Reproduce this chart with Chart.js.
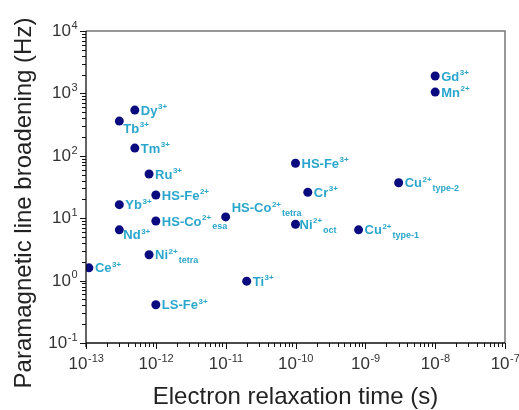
<!DOCTYPE html>
<html>
<head>
<meta charset="utf-8">
<script src="https://cdn.jsdelivr.net/npm/chart.js@4.4.1/dist/chart.umd.min.js"></script>
<style>
  body { margin: 0; background: #fff; }
  canvas { display: block; }
</style>
</head>
<body>
<canvas id="grafico" width="519" height="410"></canvas>
<script>
// ions (base name, charge as superscript, site as subscript)
const ionBase = ["Gd", "Mn", "Dy", "Tb", "Tm", "Ru", "HS-Fe", "Yb", "HS-Co", "HS-Co",
  "Nd", "Ni", "Ce", "LS-Fe", "Ti", "HS-Fe", "Cr", "Cu", "Ni", "Cu"];
const ionCharge = ["3+", "2+", "3+", "3+", "3+", "3+", "2+", "3+", "2+", "2+",
  "3+", "2+", "3+", "3+", "3+", "3+", "3+", "2+", "2+", "2+"];
const ionSite = ["", "", "", "", "", "", "", "", "esa", "tetra",
  "", "tetra", "", "", "", "", "", "type-2", "oct", "type-1"];
// electron relaxation time (s)
const tau = [1e-8, 1e-8, 5e-13, 3e-13, 5e-13, 8e-13, 1e-12, 3e-13, 1e-12, 1e-11,
  3e-13, 8e-13, 1.1e-13, 1e-12, 2e-11, 1e-10, 1.5e-10, 3e-9, 1e-10, 8e-10];
// paramagnetic line broadening (Hz)
const broadening = [1900, 1050, 540, 360, 133, 51, 23.5, 16.5, 9, 10.5,
  6.5, 2.6, 1.6, 0.41, 0.98, 76, 26, 37, 8, 6.5];
// tick labels (powers of ten)
const xTickExp = [-13, -12, -11, -10, -9, -8, -7];
const yTickExp = [-1, 0, 1, 2, 3, 4];

// label placement tweaks (by index), default is right of the point
const labelShift = { 3: [4, 7], 10: [4, 5], 9: [6, -9], 18: [4, 0] };

const labelColor = "#2aa6cc";
const dotColor = "#0b0b80";

// text with superscript / subscript
const richText = (ctx, x, y, base, sup, sub, size, font, weight) => {
  const wt = weight ? weight + " " : "";
  ctx.textAlign = "left";
  ctx.textBaseline = "alphabetic";
  ctx.font = wt + size + "px " + font;
  ctx.fillText(base, x, y);
  let cx = x + ctx.measureText(base).width;
  let w = 0;
  if (sup) {
    ctx.font = wt + Math.round(size * 0.62) + "px " + font;
    ctx.fillText(sup, cx + 0.5, y - size * 0.42);
    w = ctx.measureText(sup).width + 0.5;
  }
  if (sub) {
    ctx.font = wt + Math.round(size * 0.68) + "px " + font;
    ctx.fillText(sub, cx + w + 1, y + size * 0.3);
  }
};

const dibujo = {
  id: "dibujo",
  afterDraw(chart) {
    const ctx = chart.ctx;
    const xs = chart.scales.x;
    const ys = chart.scales.y;
    const a = chart.chartArea;
    ctx.save();

    // frame
    ctx.strokeStyle = "#777";
    ctx.lineWidth = 1.5;
    ctx.beginPath();
    ctx.moveTo(a.left, a.top);
    ctx.lineTo(a.right, a.top);
    ctx.lineTo(a.right, a.bottom);
    ctx.stroke();
    ctx.strokeStyle = "#111";
    ctx.lineWidth = 1.3;
    ctx.beginPath();
    ctx.moveTo(a.left, a.top);
    ctx.lineTo(a.left, a.bottom + 4);
    ctx.moveTo(a.left, a.bottom);
    ctx.lineTo(a.right, a.bottom);
    ctx.stroke();

    // ticks
    ctx.lineWidth = 1;
    ctx.beginPath();
    for (let e = -13; e <= -7; e++) {
      for (let m = 1; m <= 9; m++) {
        const v = m * Math.pow(10, e);
        if (v > 1.0001e-7) break;
        const px = Math.round(xs.getPixelForValue(v)) + 0.5;
        ctx.moveTo(px, a.bottom);
        ctx.lineTo(px, a.bottom + (m === 1 ? 6 : 4));
      }
    }
    for (let e = -1; e <= 4; e++) {
      for (let m = 1; m <= 9; m++) {
        const v = m * Math.pow(10, e);
        if (v > 1.0001e4) break;
        const py = Math.round(ys.getPixelForValue(v)) + 0.5;
        ctx.moveTo(a.left, py);
        ctx.lineTo(a.left - (m === 1 ? 6 : 4), py);
      }
    }
    ctx.stroke();

    // tick labels
    ctx.fillStyle = "#333";
    const tf = "'Liberation Sans', Arial, sans-serif";
    xTickExp.forEach((e) => {
      const px = xs.getPixelForValue(Math.pow(10, e));
      ctx.font = "17px " + tf;
      const w1 = ctx.measureText("10").width;
      ctx.font = "11px " + tf;
      const w2 = ctx.measureText(String(e)).width;
      richText(ctx, px - (w1 + w2) / 2, 369, "10", String(e), "", 17, tf);
    });
    yTickExp.forEach((e) => {
      const py = ys.getPixelForValue(Math.pow(10, e));
      ctx.font = "17px " + tf;
      const w1 = ctx.measureText("10").width;
      ctx.font = "11px " + tf;
      const w2 = ctx.measureText(String(e)).width;
      richText(ctx, 77 - w1 - w2, py + 5, "10", String(e), "", 17, tf);
    });

    // axis titles
    ctx.fillStyle = "#222";
    ctx.font = "24px " + tf;
    ctx.textAlign = "center";
    ctx.textBaseline = "alphabetic";
    ctx.fillText("Electron relaxation time (s)", (a.left + a.right) / 2, 404);
    ctx.save();
    ctx.translate(31, 203);
    ctx.rotate(-Math.PI / 2);
    ctx.fillText("Paramagnetic line broadening (Hz)", 0, 0);
    ctx.restore();

    // point labels
    ctx.fillStyle = labelColor;
    const lf = "'Liberation Sans Narrow', 'Arial Narrow', sans-serif";
    const meta = chart.getDatasetMeta(0);
    meta.data.forEach((pt, i) => {
      const s = labelShift[i] || [6, 0];
      richText(ctx, pt.x + s[0], pt.y + 4.5 + s[1], ionBase[i], ionCharge[i], ionSite[i], 13, lf, "bold");
    });

    ctx.restore();
  }
};

const puntos = tau.map((t, i) => ({ x: t, y: broadening[i] }));

const chart = new Chart(document.getElementById("grafico"), {
  type: "scatter",
  data: {
    datasets: [{
      data: puntos,
      backgroundColor: dotColor,
      borderWidth: 0,
      pointRadius: 4.5,
      pointHoverRadius: 4.5
    }]
  },
  options: {
    responsive: false,
    animation: false,
    layout: { padding: { top: 31, right: 14, left: 0, bottom: 0 } },
    plugins: { legend: { display: false }, tooltip: { enabled: false } },
    scales: {
      x: {
        type: "logarithmic",
        min: 1e-13,
        max: 1e-7,
        grid: { display: false },
        border: { display: false },
        ticks: { display: false },
        afterFit: (s) => { s.height = 67; }
      },
      y: {
        type: "logarithmic",
        min: 0.1,
        max: 1e4,
        grid: { display: false },
        border: { display: false },
        ticks: { display: false },
        afterFit: (s) => { s.width = 86; }
      }
    }
  },
  plugins: [dibujo]
});
</script>
</body>
</html>
